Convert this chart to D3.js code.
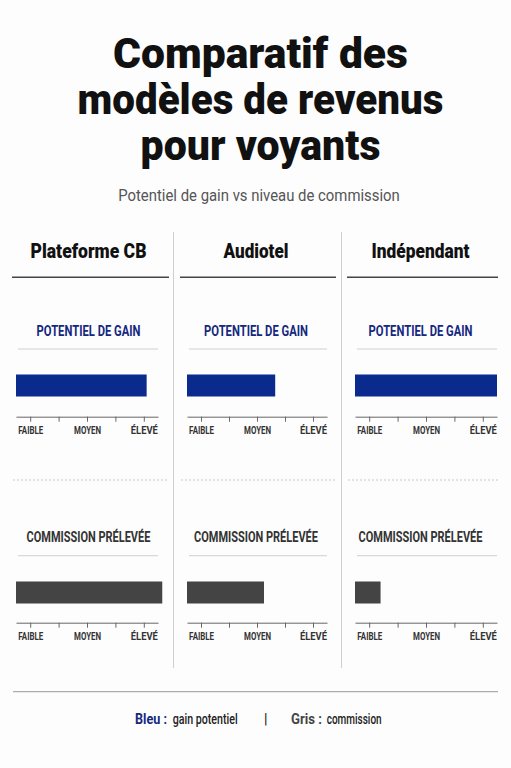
<!DOCTYPE html>
<html><head><meta charset="utf-8">
<script src="https://cdn.jsdelivr.net/npm/d3@7"></script>
<style>
html,body{margin:0;padding:0;background:#fdfdfd;}
svg{display:block;font-family:Roboto,"Noto Sans",sans-serif;}
</style></head>
<body><svg id="c" width="511" height="768"></svg>
<script>
// ---- data ----
const titleLines = ["Comparatif des", "modèles de revenus", "pour voyants"];
const subtitle = "Potentiel de gain vs niveau de commission";
const models = ["Plateforme CB", "Audiotel", "Indépendant"];
const gainValues = [5.1, 3.65, 5.5];
const commissionValues = [5.65, 3.25, 1.4];
const levelTicks = [1, 2, 3, 4, 5];
const levelLabels = ["FAIBLE", "", "MOYEN", "", "ÉLEVÉ"];
const sectionTitles = ["POTENTIEL DE GAIN", "COMMISSION PRÉLEVÉE"];

// ---- layout ----
const W = 511, H = 768;
const blue = "#0b2a8e", blueText = "#14287e", grey = "#444", dark = "#111";
const colLeft = [12, 180, 347], colRight = [169, 336, 498];
const axisLeft = [16, 187, 355], axisRight = [158, 327, 497];
const headerLen = [116, 65, 98];
const sectionLen = [104, 124];
const labelLen = {"FAIBLE": 25, "MOYEN": 27, "ÉLEVÉ": 27};
const sections = [
  {values: gainValues, color: blue, titleColor: blueText, titleY: 336, ruleY: 349, barY: 374.5, axisY: 416.7},
  {values: commissionValues, color: grey, titleColor: "#333", titleY: 541.7, ruleY: 555.7, barY: 581.5, axisY: 622.7}
];

const svg = d3.select("#c");
svg.append("rect").attr("width", W).attr("height", H).attr("fill", "#fdfdfd");

// condense a text horizontally to a target width, keeping its anchor point
function condense(sel, target) {
  const node = sel.node();
  const natural = node.getComputedTextLength();
  if (!natural || natural <= target) return sel;
  const k = target / natural;
  const x = +sel.attr("x") || 0, y = +sel.attr("y") || 0;
  sel.attr("x", x / k).attr("transform", `scale(${k},1)`);
  return sel;
}

// title
const titleLens = [295, 366, 240];
const titleY = [68, 114, 160];
titleLines.forEach((t, i) => {
  const s = svg.append("text").attr("x", 260.5).attr("y", titleY[i])
    .attr("text-anchor", "middle")
    .attr("font-size", 43).attr("font-weight", 900).attr("fill", dark).text(t);
  condense(s, titleLens[i]);
});

condense(svg.append("text").attr("x", 259).attr("y", 201.5).attr("text-anchor", "middle")
  .attr("font-size", 17).attr("fill", "#555").text(subtitle), 282);

// vertical dividers
[173.5, 341.5].forEach(x => {
  svg.append("line").attr("x1", x).attr("x2", x).attr("y1", 232).attr("y2", 668)
    .attr("stroke", "#cfcfcf").attr("stroke-width", 1);
});

models.forEach((m, i) => {
  const cx = (colLeft[i] + colRight[i]) / 2;
  const g = svg.append("g");
  condense(g.append("text").attr("x", cx - 2).attr("y", 258.3).attr("text-anchor", "middle")
    .attr("font-size", 21).attr("font-weight", 900).attr("fill", dark).text(m), headerLen[i]);
  g.append("line").attr("x1", colLeft[i]).attr("x2", colRight[i])
    .attr("y1", 277.3).attr("y2", 277.3).attr("stroke", "#444").attr("stroke-width", 1.5);
  // dashed separator
  g.append("line").attr("x1", colLeft[i] + 1).attr("x2", colRight[i])
    .attr("y1", 480).attr("y2", 480).attr("stroke", "#c8c8c8").attr("stroke-width", 1)
    .attr("stroke-dasharray", "2,2");

  const x = d3.scaleLinear().domain([0.5, 5.5]).range([axisLeft[i], axisRight[i]]);

  sections.forEach((s, k) => {
    condense(g.append("text").attr("x", cx - 2).attr("y", s.titleY).attr("text-anchor", "middle")
      .attr("font-size", 15).attr("font-weight", 700).attr("fill", s.titleColor)
      .text(sectionTitles[k]), sectionLen[k]);
    g.append("line").attr("x1", axisLeft[i] + 2).attr("x2", axisRight[i])
      .attr("y1", s.ruleY).attr("y2", s.ruleY).attr("stroke", "#d0d0d0").attr("stroke-width", 1);
    g.append("rect").attr("x", x(0.5)).attr("y", s.barY)
      .attr("width", x(s.values[i]) - x(0.5)).attr("height", 22)
      .attr("fill", s.color);
    const ax = g.append("g").attr("transform", `translate(0,${s.axisY})`)
      .call(d3.axisBottom(x).tickValues(levelTicks)
        .tickFormat((d, j) => levelLabels[j]).tickSize(5).tickSizeOuter(0).tickPadding(5.5));
    ax.select(".domain").attr("stroke", "#666").attr("stroke-width", 1);
    ax.selectAll(".tick line").attr("stroke", "#666");
    ax.selectAll(".tick text")
      .attr("font-family", "Roboto, sans-serif").attr("font-size", 10).attr("font-weight", 700)
      .attr("fill", "#333")
      .each(function(d, j) {
        const t = levelLabels[j];
        if (t) condense(d3.select(this), labelLen[t]);
      });
  });
});

// bottom rule & legend
svg.append("line").attr("x1", 13).attr("x2", 498).attr("y1", 691.7).attr("y2", 691.7)
  .attr("stroke", "#999").attr("stroke-width", 1);
const legend = [
  {t: "Bleu :", x: 135, len: 32, w: 700, c: blueText},
  {t: "gain potentiel", x: 172.7, len: 65, w: 500, c: "#222"},
  {t: "|", x: 264, len: null, w: 500, c: "#222"},
  {t: "Gris :", x: 291, len: 31, w: 700, c: grey},
  {t: "commission", x: 326.7, len: 55, w: 500, c: "#222"}
];
legend.forEach(l => {
  const t = svg.append("text").attr("x", l.x).attr("y", 724).attr("font-size", 14)
    .attr("font-weight", l.w).attr("fill", l.c).text(l.t);
  if (l.len) condense(t, l.len);
});
</script></body></html>
